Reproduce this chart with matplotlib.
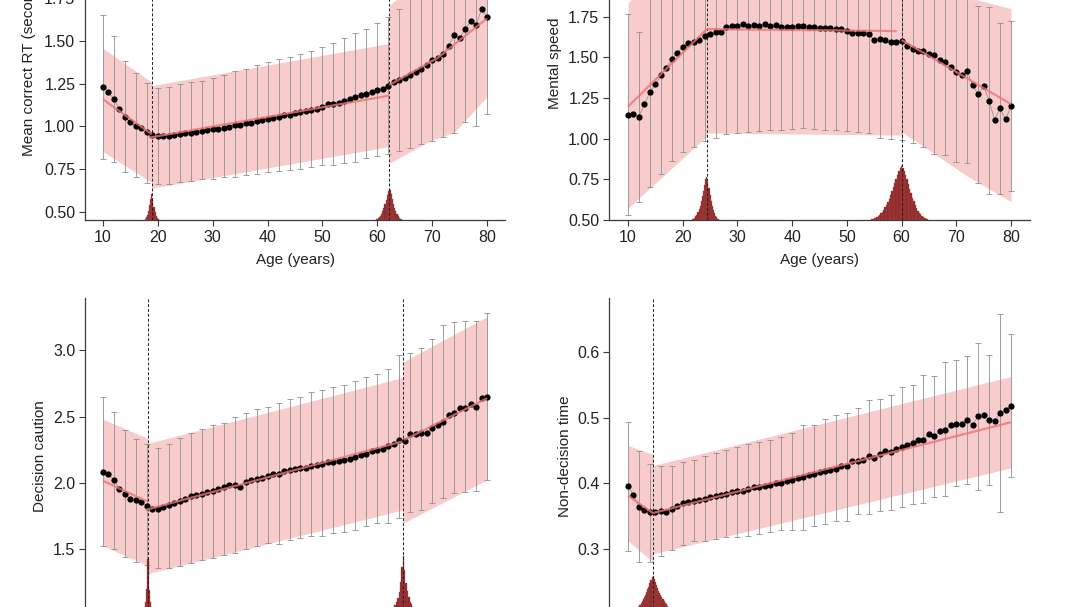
import matplotlib
matplotlib.use('Agg')
import matplotlib.pyplot as plt
import numpy as np

plt.rcParams['font.family'] = ['Liberation Sans', 'DejaVu Sans']

AGES = np.arange(10, 81)
BAR_AGES = np.arange(10, 81, 2)
X_TICKS = [10, 20, 30, 40, 50, 60, 70, 80]

# ---- Mean correct RT (top left) ----
RT_MEAN = [1.232, 1.199, 1.160, 1.100, 1.057, 1.024, 1.003, 0.989, 0.966, 0.950,
           0.945, 0.943, 0.947, 0.950, 0.956, 0.960, 0.964, 0.970, 0.974, 0.978,
           0.983, 0.987, 0.991, 0.999, 1.009, 1.007, 1.018, 1.022, 1.030, 1.038,
           1.046, 1.051, 1.055, 1.065, 1.069, 1.077, 1.084, 1.090, 1.096, 1.102,
           1.112, 1.129, 1.131, 1.137, 1.149, 1.158, 1.170, 1.182, 1.191, 1.199,
           1.211, 1.218, 1.238, 1.257, 1.269, 1.284, 1.298, 1.316, 1.333, 1.356,
           1.385, 1.401, 1.420, 1.471, 1.531, 1.517, 1.566, 1.613, 1.589, 1.683, 1.640]
RT_ERR_HI = [1.650, 1.527, 1.382, 1.310, 1.255, 1.222, 1.228, 1.246, 1.259, 1.265,
             1.284, 1.298, 1.323, 1.333, 1.358, 1.374, 1.393, 1.407, 1.420, 1.442,
             1.461, 1.484, 1.514, 1.547, 1.570, 1.601, 1.640, 1.683, 1.76, 1.80,
             1.84, 1.89, 1.95, 2.10, 2.18, 2.22]
RT_ERR_LO = [0.811, 0.795, 0.733, 0.704, 0.671, 0.665, 0.667, 0.675, 0.681, 0.692,
             0.694, 0.704, 0.708, 0.719, 0.725, 0.737, 0.739, 0.745, 0.750, 0.766,
             0.774, 0.778, 0.789, 0.795, 0.815, 0.828, 0.840, 0.859, 0.877, 0.898,
             0.917, 0.937, 0.960, 1.028, 1.003, 1.073]
RT_BREAKS = [18.9, 62.2]
RT_FIT_X = [[10, 18.9], [18.4, 62.2], [62.2, 71, 80]]
RT_FIT_Y = [[1.158, 0.955], [0.935, 1.180], [1.242, 1.400, 1.630]]
RT_BAND_X = [[10, 18.9], [18.9, 62.2], [62.2, 66, 70, 74, 80]]
RT_BAND_LO = [[0.853, 0.673], [0.640, 0.883], [0.785, 0.853, 0.921, 0.965, 1.174]]
RT_BAND_HI = [[1.455, 1.258], [1.238, 1.484], [1.708, 1.80, 1.88, 1.96, 2.09]]
RT_DENS_FIRST = [17.7, 59.8]
RT_DENS_STEP = [0.2, 0.2]
RT_DENS = [[0.006, 0.015, 0.030, 0.055, 0.085, 0.120, 0.150, 0.115, 0.078, 0.048,
            0.026, 0.012, 0.005],
           [0.003, 0.006, 0.010, 0.016, 0.025, 0.037, 0.052, 0.070, 0.092, 0.118,
            0.145, 0.168, 0.180, 0.172, 0.150, 0.122, 0.095, 0.070, 0.050, 0.034,
            0.022, 0.014, 0.008, 0.004]]

# ---- Mental speed (top right) ----
MS_MEAN = [1.145, 1.152, 1.135, 1.211, 1.285, 1.334, 1.389, 1.434, 1.488, 1.529,
           1.564, 1.586, 1.592, 1.607, 1.631, 1.641, 1.654, 1.658, 1.689, 1.693,
           1.693, 1.703, 1.695, 1.697, 1.695, 1.707, 1.693, 1.699, 1.689, 1.689,
           1.686, 1.695, 1.691, 1.689, 1.689, 1.680, 1.680, 1.678, 1.676, 1.676,
           1.662, 1.652, 1.652, 1.652, 1.641, 1.607, 1.615, 1.609, 1.594, 1.592,
           1.602, 1.572, 1.553, 1.537, 1.541, 1.520, 1.512, 1.484, 1.469, 1.443,
           1.412, 1.389, 1.416, 1.328, 1.273, 1.324, 1.234, 1.115, 1.186, 1.119, 1.201]
MS_ERR_HI = [1.766, 1.654, 1.87, 2.00, 2.12, 2.21, 2.23, 2.28, 2.30, 2.35,
             2.35, 2.35, 2.34, 2.33, 2.33, 2.32, 2.32, 2.32, 2.31, 2.30,
             2.28, 2.26, 2.25, 2.23, 2.19, 2.21, 2.14, 2.13, 2.12, 2.04,
             1.97, 1.98, 1.816, 1.807, 1.709, 1.725]
MS_ERR_LO = [0.531, 0.613, 0.705, 0.783, 0.861, 0.920, 0.951, 0.986, 1.006, 1.029,
             1.037, 1.043, 1.047, 1.053, 1.053, 1.057, 1.064, 1.057, 1.053, 1.053,
             1.047, 1.043, 1.033, 1.002, 1.000, 0.992, 0.971, 0.951, 0.906, 0.900,
             0.859, 0.852, 0.725, 0.658, 0.660, 0.678]
MS_BREAKS = [24.4, 60.0]
MS_FIT_X = [[10, 24.4], [24.4, 59.1], [60.0, 80]]
MS_FIT_Y = [[1.197, 1.674], [1.674, 1.662], [1.607, 1.213]]
MS_BAND_X = [[10, 24.4], [24.4, 60.0], [60.0, 72, 80]]
MS_BAND_LO = [[0.572, 1.015], [1.035, 1.022], [1.043, 0.770, 0.613]]
MS_BAND_HI = [[1.836, 2.33], [2.31, 2.30], [2.17, 1.87, 1.80]]
MS_DENS_FIRST = [21.8, 54.5]
MS_DENS_STEP = [0.2, 0.25]
MS_DENS = [[0.004, 0.008, 0.014, 0.022, 0.033, 0.048, 0.066, 0.088, 0.114, 0.145,
            0.180, 0.215, 0.250, 0.265, 0.235, 0.195, 0.155, 0.118, 0.086, 0.060,
            0.040, 0.026, 0.016, 0.009, 0.005],
           [0.004, 0.007, 0.010, 0.014, 0.019, 0.025, 0.032, 0.041, 0.051, 0.063,
            0.077, 0.093, 0.111, 0.131, 0.153, 0.177, 0.202, 0.228, 0.254, 0.279,
            0.302, 0.320, 0.330, 0.322, 0.303, 0.278, 0.250, 0.221, 0.192, 0.164,
            0.138, 0.114, 0.093, 0.074, 0.058, 0.045, 0.034, 0.025, 0.018, 0.012,
            0.008, 0.005]]

# ---- Decision caution (bottom left) ----
DC_MEAN = [2.079, 2.069, 2.019, 1.953, 1.918, 1.875, 1.868, 1.853, 1.825, 1.803,
           1.803, 1.813, 1.828, 1.843, 1.860, 1.880, 1.896, 1.908, 1.916, 1.931,
           1.941, 1.953, 1.969, 1.981, 1.981, 1.971, 2.009, 2.019, 2.026, 2.034,
           2.052, 2.064, 2.069, 2.088, 2.096, 2.107, 2.111, 2.114, 2.130, 2.134,
           2.145, 2.155, 2.159, 2.164, 2.175, 2.179, 2.195, 2.210, 2.217, 2.239,
           2.246, 2.257, 2.276, 2.293, 2.323, 2.316, 2.366, 2.369, 2.374, 2.374,
           2.416, 2.436, 2.462, 2.512, 2.530, 2.562, 2.562, 2.592, 2.575, 2.638, 2.650]
DC_ERR_HI = [2.645, 2.537, 2.396, 2.331, 2.293, 2.260, 2.293, 2.336, 2.374, 2.404,
             2.439, 2.454, 2.494, 2.525, 2.557, 2.570, 2.600, 2.633, 2.650, 2.688,
             2.701, 2.721, 2.736, 2.771, 2.796, 2.821, 2.857, 2.965, 2.977, 3.015,
             3.083, 3.191, 3.216, 3.224, 3.224, 3.279]
DC_ERR_LO = [1.518, 1.498, 1.435, 1.397, 1.380, 1.355, 1.355, 1.372, 1.392, 1.418,
             1.430, 1.450, 1.468, 1.498, 1.518, 1.543, 1.538, 1.568, 1.581, 1.594,
             1.599, 1.619, 1.626, 1.644, 1.669, 1.694, 1.699, 1.732, 1.775, 1.795,
             1.845, 1.883, 1.921, 1.933, 1.938, 2.021]
DC_BREAKS = [18.2, 64.7]
DC_FIT_X = [[10, 18.0], [17.8, 64.5], [64.9, 80]]
DC_FIT_Y = [[2.014, 1.860], [1.795, 2.311], [2.323, 2.638]]
DC_BAND_X = [[10, 18.2], [18.2, 64.7], [64.7, 80]]
DC_BAND_LO = [[1.523, 1.372], [1.312, 1.795], [1.694, 2.021]]
DC_BAND_HI = [[2.479, 2.335], [2.297, 2.796], [2.914, 3.254]]
DC_DENS_FIRST = [16.8, 61.5]
DC_DENS_STEP = [0.2, 0.25]
DC_DENS = [[0.010, 0.016, 0.024, 0.040, 0.062, 0.100, 0.200, 0.420, 0.190, 0.095,
            0.060, 0.038, 0.024, 0.015, 0.009],
           [0.010, 0.014, 0.019, 0.025, 0.033, 0.043, 0.056, 0.072, 0.095, 0.125,
            0.175, 0.250, 0.360, 0.443, 0.340, 0.245, 0.180, 0.135, 0.102, 0.080,
            0.063, 0.050, 0.039, 0.030, 0.023, 0.017, 0.012]]

# ---- Non-decision time (bottom right) ----
NDT_MEAN = [0.396, 0.382, 0.364, 0.360, 0.356, 0.357, 0.358, 0.357, 0.361, 0.366,
            0.370, 0.372, 0.374, 0.3755, 0.377, 0.379, 0.3805, 0.383, 0.384, 0.387,
            0.388, 0.389, 0.392, 0.394, 0.394, 0.396, 0.398, 0.400, 0.401, 0.403,
            0.405, 0.408, 0.410, 0.413, 0.414, 0.417, 0.4186, 0.4207, 0.4222, 0.4257,
            0.4257, 0.4333, 0.4333, 0.4363, 0.4424, 0.439, 0.445, 0.4485, 0.4474, 0.4526,
            0.456, 0.4587, 0.4617, 0.4667, 0.4667, 0.4754, 0.4713, 0.4789, 0.4815, 0.489,
            0.4906, 0.4906, 0.4966, 0.4895, 0.5017, 0.504, 0.4966, 0.4945, 0.507, 0.511, 0.518]
NDT_ERR_HI = [0.4931, 0.449, 0.4297, 0.4262, 0.4257, 0.4322, 0.4358, 0.4424, 0.4464, 0.451,
              0.455, 0.4601, 0.4626, 0.4652, 0.4702, 0.4763, 0.4895, 0.4895, 0.4981, 0.5032,
              0.5072, 0.5148, 0.527, 0.5285, 0.5336, 0.5463, 0.5503, 0.564, 0.5625, 0.5843,
              0.5868, 0.5934, 0.6132, 0.5944, 0.6578, 0.6264]
NDT_ERR_LO = [0.2979, 0.281, 0.280, 0.2893, 0.2989, 0.307, 0.3121, 0.3131, 0.3157, 0.3182,
              0.3192, 0.3207, 0.3233, 0.3258, 0.3293, 0.3293, 0.3293, 0.3359, 0.3385, 0.3425,
              0.3435, 0.3537, 0.3537, 0.3587, 0.3598, 0.3638, 0.3689, 0.3699, 0.379, 0.3816,
              0.3968, 0.3993, 0.3902, 0.3983, 0.3562, 0.4104]
NDT_BREAKS = [14.6]
NDT_FIT_X = [[10, 14.6], [14.6, 80]]
NDT_FIT_Y = [[0.3815, 0.3547], [0.355, 0.493]]
NDT_BAND_X = [[10, 14.6], [14.6, 80]]
NDT_BAND_LO = [[0.313, 0.280], [0.2929, 0.4236]]
NDT_BAND_HI = [[0.4576, 0.444], [0.4272, 0.5625]]
NDT_DENS_FIRST = [11.6]
NDT_DENS_STEP = [0.2]
NDT_DENS = [[0.006, 0.009, 0.012, 0.015, 0.018, 0.021, 0.024, 0.027, 0.031, 0.035,
             0.039, 0.043, 0.048, 0.053, 0.058, 0.060, 0.055, 0.050, 0.045, 0.041,
             0.037, 0.033, 0.030, 0.027, 0.024, 0.021, 0.018, 0.016, 0.013, 0.011,
             0.008, 0.005]]

BAND_COLOR = '#f9cccc'
FIT_COLOR = '#ee7474'
ERR_COLOR = '#8e8e8e'
DENS_COLOR = '#8c2626'
AX_COLOR = '#3a3a3a'

W, H = 1080, 607


def rect(left, top, right, bottom):
    # pixel box -> figure fraction
    return [left / W, (H - bottom) / H, (right - left) / W, (bottom - top) / H]


def draw_panel(ax, mean, err_lo, err_hi, fit_x, fit_y, band_x, band_lo, band_hi,
               breaks, dens_first, dens_step, dens, xlim, ylim, yticks, ylabel,
               label_x, show_x):
    ax.set_xlim(xlim)
    ax.set_ylim(ylim)

    for bx, lo, hi in zip(band_x, band_lo, band_hi):
        ax.fill_between(bx, lo, hi, color=BAND_COLOR, lw=0, zorder=1)

    ax.vlines(BAR_AGES, err_lo, err_hi, color=ERR_COLOR, lw=0.6, zorder=2)
    ax.plot(BAR_AGES, err_lo, ls='none', marker='_', ms=5, mew=0.6, color=ERR_COLOR, zorder=2)
    ax.plot(BAR_AGES, err_hi, ls='none', marker='_', ms=5, mew=0.6, color=ERR_COLOR, zorder=2)

    for first, step, heights in zip(dens_first, dens_step, dens):
        centers = first + step * np.arange(len(heights))
        ax.bar(centers, heights, width=step, bottom=ylim[0], color=DENS_COLOR,
               edgecolor='#a84848', lw=0.25, zorder=3)

    for b in breaks:
        ax.axvline(b, color='#202020', lw=0.7, ls=(0, (3, 2)), zorder=4)

    ax.plot(AGES, mean, color='#8a8a8a', lw=0.5, zorder=5)
    ax.plot(AGES, mean, ls='none', marker='o', ms=4.5, color='black', mew=0, zorder=6)

    for fx, fy in zip(fit_x, fit_y):
        ax.plot(fx, fy, color=FIT_COLOR, lw=1.6, alpha=0.8, zorder=7,
                solid_capstyle='butt')

    for side in ['top', 'right']:
        ax.spines[side].set_visible(False)
    for side in ['left', 'bottom']:
        ax.spines[side].set_color(AX_COLOR)
        ax.spines[side].set_linewidth(0.9)
    ax.set_xticks(X_TICKS)
    ax.set_yticks(yticks)
    ax.tick_params(direction='out', length=4, width=0.8, color=AX_COLOR,
                   labelcolor='#222222', labelsize=11.5, pad=3)
    ax.set_ylabel(ylabel, fontsize=11, color='#222222')
    ax.yaxis.set_label_coords(label_x, 0.5)
    if show_x:
        ax.set_xlabel('Age (years)', fontsize=11, color='#222222')
        ax.xaxis.set_label_coords(0.5, -0.105)
    else:
        # x axis of the lower row lies below the visible area
        ax.tick_params(axis='x', labelbottom=False)


fig = plt.figure(figsize=(W / 100, H / 100), dpi=100)

ax1 = fig.add_axes(rect(85, -93, 505, 220))
draw_panel(ax1, RT_MEAN, RT_ERR_LO, RT_ERR_HI, RT_FIT_X, RT_FIT_Y,
           RT_BAND_X, RT_BAND_LO, RT_BAND_HI, RT_BREAKS,
           RT_DENS_FIRST, RT_DENS_STEP, RT_DENS,
           (6.72, 83.28), (0.455, 0.455 + 313 / 171.6),
           [0.50, 0.75, 1.00, 1.25, 1.50, 1.75], 'Mean correct RT (seconds)',
           -0.117, True)
ax1.set_yticklabels(['0.50', '0.75', '1.00', '1.25', '1.50', '1.75'])

ax2 = fig.add_axes(rect(609, -93, 1030, 220))
draw_panel(ax2, MS_MEAN, MS_ERR_LO, MS_ERR_HI, MS_FIT_X, MS_FIT_Y,
           MS_BAND_X, MS_BAND_LO, MS_BAND_HI, MS_BREAKS,
           MS_DENS_FIRST, MS_DENS_STEP, MS_DENS,
           (6.53, 83.47), (0.50, 0.50 + 313 / 162.6),
           [0.50, 0.75, 1.00, 1.25, 1.50, 1.75], 'Mental speed',
           -0.112, True)
ax2.set_yticklabels(['0.50', '0.75', '1.00', '1.25', '1.50', '1.75'])

ax3 = fig.add_axes(rect(85, 298, 505, 615))
draw_panel(ax3, DC_MEAN, DC_ERR_LO, DC_ERR_HI, DC_FIT_X, DC_FIT_Y,
           DC_BAND_X, DC_BAND_LO, DC_BAND_HI, DC_BREAKS,
           DC_DENS_FIRST, DC_DENS_STEP, DC_DENS,
           (6.72, 83.28), (1.0, 1.0 + 317 / 132.3),
           [1.5, 2.0, 2.5, 3.0], 'Decision caution',
           -0.090, False)

ax4 = fig.add_axes(rect(609, 298, 1030, 615))
draw_panel(ax4, NDT_MEAN, NDT_ERR_LO, NDT_ERR_HI, NDT_FIT_X, NDT_FIT_Y,
           NDT_BAND_X, NDT_BAND_LO, NDT_BAND_HI, NDT_BREAKS,
           NDT_DENS_FIRST, NDT_DENS_STEP, NDT_DENS,
           (6.53, 83.47), (0.2, 0.2 + 317 / 658.0),
           [0.3, 0.4, 0.5, 0.6], 'Non-decision time',
           -0.088, False)

fig.savefig('out.png', dpi=100)
